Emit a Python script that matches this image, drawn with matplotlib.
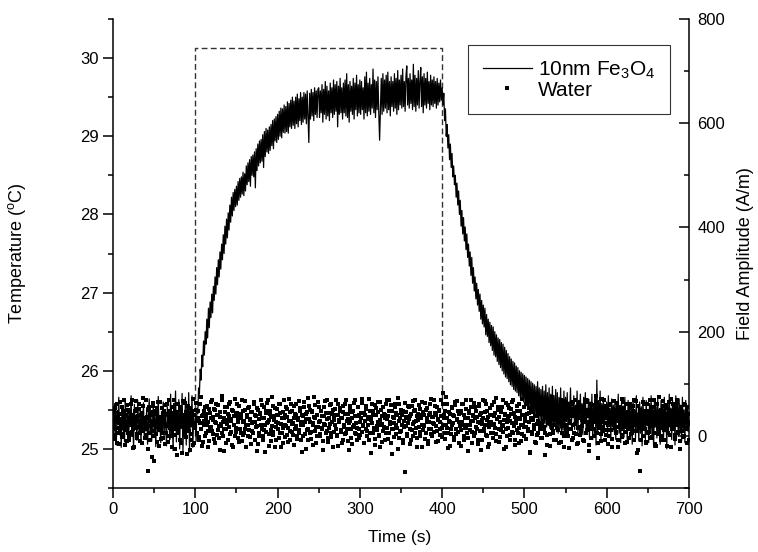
import matplotlib
matplotlib.use('Agg')
import matplotlib.pyplot as plt
from matplotlib.ticker import MultipleLocator
import numpy as np

plt.rcParams['font.family'] = ['Liberation Sans', 'DejaVu Sans']
plt.rcParams['mathtext.fontset'] = 'custom'
plt.rcParams['mathtext.rm'] = 'Liberation Sans'
plt.rcParams['mathtext.it'] = 'Liberation Sans:italic'
plt.rcParams['mathtext.bf'] = 'Liberation Sans:bold'

# sampling: one reading per second, 0..700 s (water also has half-second readings)
time_start = 0
time_step = 1
half_offset = 0.5

fe3o4_temp = [
    25.41, 25.12, 25.58, 25.27, 25.05, 25.49, 25.31, 25.66, 25.18, 25.38,
    25.02, 25.55, 25.24, 25.44, 25.09, 25.61, 25.35, 25.21, 25.52, 25.13,
    25.47, 25.29, 25.68, 25.16, 25.39, 25.01, 25.57, 25.26, 25.43, 25.11,
    25.62, 25.34, 25.19, 25.50, 25.07, 25.45, 25.28, 25.59, 25.14, 25.40,
    25.23, 25.53, 25.06, 25.36, 25.64, 25.20, 25.46, 25.10, 25.32, 25.56,
    25.17, 25.42, 25.03, 25.51, 25.30, 25.67, 25.22, 25.37, 25.08, 25.48,
    25.25, 25.60, 25.15, 25.44, 25.33, 25.04, 25.54, 25.27, 25.41, 25.12,
    25.70, 25.19, 25.47, 24.98, 25.58, 25.31, 25.74, 25.09, 25.43, 25.22,
    25.63, 25.00, 25.52, 25.26, 25.71, 24.97, 25.45, 25.16, 25.66, 25.05,
    25.55, 25.21, 25.72, 24.96, 25.49, 25.28, 25.68, 25.02, 25.40, 25.30,
    25.35, 25.10, 25.52, 25.45, 25.78, 25.70, 26.02, 25.88, 26.20, 26.05,
    26.38, 26.20, 26.50, 26.34, 26.66, 26.42, 26.80, 26.55, 26.88, 26.68,
    26.98, 26.74, 27.08, 26.90, 27.20, 26.98, 27.32, 27.10, 27.42, 27.20,
    27.52, 27.30, 27.62, 27.42, 27.74, 27.50, 27.85, 27.62, 27.94, 27.70,
    28.02, 27.80, 28.12, 27.90, 28.22, 27.98, 28.28, 28.05, 28.32, 28.10,
    28.36, 28.12, 28.42, 28.18, 28.46, 28.22, 28.48, 28.26, 28.54, 28.24,
    28.52, 28.30, 28.62, 28.38, 28.66, 28.42, 28.70, 28.36, 28.74, 28.50,
    28.76, 28.48, 28.80, 28.34, 28.84, 28.56, 28.90, 28.62, 28.94, 28.66,
    28.96, 28.68, 29.02, 28.60, 29.06, 28.74, 29.10, 28.80, 29.08, 28.78,
    29.12, 28.82, 29.15, 28.88, 29.20, 28.84, 29.22, 28.94, 29.25, 28.92,
    29.28, 28.96, 29.32, 29.00, 29.36, 28.98, 29.35, 29.05, 29.40, 29.04,
    29.38, 29.06, 29.44, 29.04, 29.42, 29.12, 29.46, 29.10, 29.50, 29.14,
    29.45, 29.10, 29.50, 29.16, 29.54, 29.12, 29.48, 29.20, 29.56, 29.15,
    29.50, 29.18, 29.56, 29.22, 29.54, 29.16, 29.58, 29.24, 28.92, 29.55,
    29.22, 29.60, 29.26, 29.56, 29.20, 29.62, 29.28, 29.58, 29.24, 29.60,
    29.62, 29.24, 29.58, 29.30, 29.66, 29.18, 29.60, 29.28, 29.70, 29.22,
    29.64, 29.26, 29.58, 29.20, 29.68, 29.30, 29.62, 29.24, 29.72, 29.28,
    29.66, 29.32, 29.70, 29.12, 29.64, 29.28, 29.74, 29.30, 29.62, 29.22,
    29.68, 29.30, 29.72, 29.26, 29.80, 29.24, 29.66, 29.18, 29.70, 29.32,
    29.64, 29.28, 29.74, 29.22, 29.68, 29.34, 29.78, 29.26, 29.66, 29.30,
    29.72, 29.28, 29.70, 29.34, 29.62, 29.22, 29.76, 29.30, 29.82, 29.26,
    29.68, 29.32, 29.74, 29.28, 29.66, 29.36, 29.86, 29.30, 29.72, 29.24,
    29.70, 29.34, 29.76, 29.30, 28.95, 29.36, 29.74, 29.28, 29.80, 29.32,
    29.72, 29.36, 29.78, 29.30, 29.82, 29.34, 29.70, 29.26, 29.76, 29.38,
    29.70, 29.32, 29.80, 29.36, 29.74, 29.28, 29.84, 29.34, 29.72, 29.40,
    29.78, 29.36, 29.86, 29.38, 29.70, 29.32, 29.76, 29.90, 29.40, 29.74,
    29.36, 29.80, 29.42, 29.72, 29.34, 29.92, 29.38, 29.78, 29.32, 29.74,
    29.40, 29.84, 29.36, 29.70, 29.88, 29.38, 29.76, 29.30, 29.80, 29.40,
    29.74, 29.36, 29.82, 29.42, 29.70, 29.34, 29.78, 29.40, 29.72, 29.38,
    29.76, 29.42, 29.70, 29.36, 29.74, 29.40, 29.68, 29.44, 29.72, 29.46,
    29.62, 29.40, 29.55, 29.20, 29.35, 29.00, 29.15, 28.85, 29.02, 28.70,
    28.90, 28.60, 28.78, 28.48, 28.62, 28.38, 28.50, 28.22, 28.40, 28.12,
    28.30, 28.00, 28.18, 27.85, 28.05, 27.75, 27.96, 27.66, 27.84, 27.55,
    27.75, 27.45, 27.62, 27.34, 27.52, 27.22, 27.45, 27.12, 27.32, 27.02,
    27.20, 26.92, 27.12, 26.84, 27.04, 26.76, 26.98, 26.66, 26.90, 26.60,
    26.84, 26.56, 26.80, 26.46, 26.72, 26.44, 26.66, 26.36, 26.62, 26.32,
    26.58, 26.26, 26.56, 26.20, 26.50, 26.18, 26.46, 26.12, 26.42, 26.08,
    26.40, 26.04, 26.36, 26.00, 26.34, 25.96, 26.30, 25.92, 26.26, 25.90,
    26.22, 25.86, 26.18, 25.82, 26.15, 25.80, 26.12, 25.76, 26.10, 25.74,
    26.06, 25.72, 26.04, 25.68, 26.00, 25.66, 25.98, 25.62, 25.96, 25.60,
    25.94, 25.58, 25.92, 25.55, 25.90, 25.52, 25.88, 25.50, 25.86, 25.46,
    25.84, 25.44, 25.82, 25.42, 25.80, 25.40, 25.86, 25.38, 25.78, 25.36,
    25.76, 25.34, 25.80, 25.30, 25.74, 25.32, 25.82, 25.28, 25.72, 25.30,
    25.78, 25.26, 25.70, 25.28, 25.80, 25.24, 25.68, 25.30, 25.76, 25.22,
    25.72, 25.20, 25.66, 25.26, 25.78, 25.18, 25.64, 25.24, 25.74, 25.16,
    25.66, 25.35, 25.72, 25.22, 25.60, 25.44, 25.78, 25.30, 25.54, 25.40,
    25.68, 25.25, 25.56, 25.38, 25.74, 25.20, 25.62, 25.42, 25.70, 25.28,
    25.58, 25.18, 25.66, 25.35, 25.72, 25.24, 25.52, 25.40, 25.64, 25.15,
    25.60, 25.30, 25.70, 25.12, 25.55, 25.36, 25.68, 25.05, 25.88, 25.22,
    25.62, 25.26, 25.74, 25.10, 25.58, 25.32, 25.66, 25.20, 25.54, 25.38,
    25.60, 25.18, 25.68, 25.30, 25.52, 25.14, 25.64, 25.28, 25.56, 25.22,
    25.62, 25.12, 25.58, 25.34, 25.70, 25.20, 25.50, 25.08, 25.60, 25.26,
    25.55, 25.15, 25.66, 25.30, 25.48, 25.10, 25.62, 25.24, 25.52, 25.18,
    25.58, 25.06, 25.64, 25.28, 25.50, 25.14, 25.68, 25.22, 25.46, 25.10,
    25.60, 25.20, 25.54, 25.04, 25.66, 25.26, 25.50, 25.12, 25.62, 25.30,
    25.48, 25.08, 25.58, 25.24, 25.68, 25.16, 25.52, 25.02, 25.60, 25.28,
    25.54, 25.14, 25.64, 25.20, 25.48, 25.06, 25.62, 25.26, 25.56, 25.10,
    25.66, 25.22, 25.50, 25.00, 25.58, 25.18, 25.70, 25.28, 25.52, 25.12,
    25.62, 25.24, 25.55, 25.05, 25.68, 25.30, 25.58, 25.16, 25.64, 25.20,
    25.56, 25.10, 25.66, 25.26, 25.50, 25.08, 25.62, 25.30, 25.54, 25.22,
    25.40,
]

water_temp = [
    25.30, 25.45, 25.18, 25.52, 25.36, 25.08, 25.41, 25.27, 25.60, 25.22,
    25.38, 25.15, 25.48, 25.33, 25.05, 25.44, 25.29, 25.56, 25.20, 25.35,
    25.12, 25.47, 25.31, 25.62, 25.25, 25.40, 25.03, 25.37, 25.51, 25.19,
    25.42, 25.28, 25.58, 25.10, 25.34, 25.46, 25.23, 25.65, 25.32, 25.14,
    25.39, 25.26, 25.00, 24.72, 25.50, 25.21, 25.43, 24.90, 25.30, 25.55,
    25.17, 25.36, 25.48, 25.09, 25.32, 25.60, 25.24, 25.41, 25.13, 25.35,
    25.52, 25.20, 25.38, 25.06, 25.45, 25.29, 25.57, 25.16, 25.34, 25.49,
    25.25, 25.42, 25.02, 25.37, 25.63, 25.18, 25.31, 25.47, 24.92, 25.28,
    25.40, 25.11, 25.54, 25.33, 24.95, 25.44, 25.22, 25.59, 25.30, 25.15,
    25.46, 25.27, 25.38, 24.98, 25.52, 25.19, 25.35, 25.64, 25.08, 25.43,
    25.32, 25.50, 25.21, 25.40, 25.12, 25.36, 25.58, 25.25, 25.04, 25.44,
    25.30, 25.48, 25.16, 25.39, 25.55, 25.23, 25.34, 25.10, 25.46, 25.28,
    25.62, 25.19, 25.37, 25.51, 25.07, 25.33, 25.43, 25.24, 25.56, 25.14,
    25.41, 25.29, 25.68, 25.20, 25.35, 24.97, 25.47, 25.26, 25.53, 25.32,
    25.11, 25.42, 25.60, 25.22, 25.38, 25.05, 25.49, 25.30, 25.16, 25.44,
    25.27, 25.57, 25.34, 25.09, 25.45, 25.21, 25.39, 25.63, 25.18, 25.36,
    25.50, 25.25, 25.02, 25.41, 25.31, 25.54, 25.15, 25.37, 25.47, 25.23,
    25.34, 25.60, 25.12, 25.43, 25.28, 25.52, 25.06, 25.38, 25.20, 25.46,
    25.31, 25.56, 25.17, 25.40, 25.24, 24.96, 25.48, 25.33, 25.62, 25.19,
    25.37, 25.45, 25.10, 25.29, 25.55, 25.22, 25.42, 25.03, 25.35, 25.51,
    25.26, 25.44, 25.14, 25.58, 25.32, 25.20, 25.47, 25.08, 25.39, 25.30,
    25.53, 25.18, 25.41, 25.27, 25.64, 25.12, 25.36, 25.49, 25.22, 25.33,
    25.05, 25.45, 25.29, 25.57, 25.16, 25.40, 25.24, 25.52, 25.35, 25.11,
    25.43, 25.31, 25.60, 25.19, 25.38, 25.00, 25.47, 25.26, 25.55, 25.21,
    25.34, 25.13, 25.49, 25.30, 25.66, 25.23, 25.39, 25.07, 25.44, 25.28,
    25.54, 25.17, 25.36, 25.48, 25.25, 24.98, 25.42, 25.32, 25.61, 25.20,
    25.38, 25.09, 25.46, 25.27, 25.56, 25.15, 25.35, 25.50, 25.22, 25.41,
    25.30, 25.63, 25.18, 25.44, 25.04, 25.37, 25.52, 25.24, 25.40, 25.12,
    25.47, 25.28, 25.58, 25.21, 25.36, 25.45, 25.10, 25.33, 25.55, 25.26,
    25.39, 25.06, 25.49, 25.31, 25.62, 25.19, 25.42, 25.27, 25.53, 25.14,
    25.35, 25.46, 25.22, 25.59, 25.30, 25.08, 25.43, 25.25, 25.51, 25.17,
    25.38, 25.64, 25.20, 25.41, 24.95, 25.33, 25.48, 25.26, 25.56, 25.13,
    25.44, 25.29, 25.60, 25.18, 25.37, 25.02, 25.50, 25.32, 25.23, 25.45,
    25.11, 25.39, 25.57, 25.27, 25.42, 25.20, 25.63, 25.34, 25.07, 25.48,
    25.25, 25.40, 25.15, 25.53, 25.31, 25.44, 25.00, 25.36, 25.58, 25.22,
    25.46, 25.30, 25.12, 25.49, 25.28, 24.70, 25.41, 25.19, 25.55, 25.33,
    25.38, 25.06, 25.45, 25.24, 25.61, 25.17, 25.35, 25.50, 25.27, 25.42,
    25.14, 25.37, 25.56, 25.22, 25.43, 25.31, 25.03, 25.47, 25.29, 25.59,
    25.20, 25.39, 25.52, 25.10, 25.34, 25.46, 25.26, 25.64, 25.16, 25.41,
    25.32, 25.55, 25.09, 25.44, 25.23, 25.38, 25.50, 25.18, 25.35, 25.62,
    25.27, 25.72, 25.40, 25.13, 25.48, 25.30, 25.57, 25.21, 25.36, 25.04,
    25.45, 25.25, 25.53, 25.33, 25.15, 25.42, 25.60, 25.19, 25.37, 25.49,
    25.08, 25.34, 25.46, 25.24, 25.58, 25.31, 25.12, 25.43, 25.27, 25.51,
    25.20, 25.39, 24.97, 25.48, 25.30, 25.63, 25.22, 25.36, 25.44, 25.16,
    25.53, 25.28, 25.41, 25.06, 25.35, 25.57, 25.23, 25.46, 25.32, 25.11,
    25.40, 25.26, 25.61, 25.18, 25.37, 25.49, 25.02, 25.33, 25.44, 25.21,
    25.56, 25.30, 25.14, 25.42, 25.27, 25.65, 25.19, 25.38, 25.50, 25.09,
    25.35, 25.47, 25.24, 25.54, 25.31, 25.00, 25.43, 25.26, 25.59, 25.17,
    25.39, 25.52, 25.12, 25.36, 25.45, 25.22, 25.62, 25.29, 25.05, 25.41,
    25.33, 25.48, 25.20, 25.57, 25.27, 25.38, 25.10, 25.44, 25.31, 25.53,
    25.16, 25.40, 25.28, 25.63, 25.23, 25.46, 25.34, 24.96, 25.50, 25.19,
    25.37, 25.55, 25.25, 25.42, 25.08, 25.32, 25.58, 25.21, 25.45, 25.30,
    25.14, 25.49, 25.36, 25.60, 25.26, 24.92, 25.41, 25.18, 25.53, 25.33,
    25.44, 25.04, 25.38, 25.27, 25.66, 25.20, 25.47, 25.31, 25.12, 25.40,
    25.56, 25.24, 25.35, 25.48, 25.09, 25.43, 25.29, 25.61, 25.17, 25.38,
    25.30, 25.52, 25.22, 25.45, 25.01, 25.36, 25.58, 25.26, 25.42, 25.14,
    25.49, 25.32, 25.63, 25.19, 25.40, 25.07, 25.46, 25.28, 25.55, 25.23,
    25.37, 25.12, 25.50, 25.34, 25.43, 25.20, 25.60, 25.29, 25.05, 25.44,
    25.25, 25.57, 25.31, 25.39, 25.16, 25.48, 25.35, 25.68, 25.21, 24.88,
    25.42, 25.27, 25.54, 25.10, 25.36, 25.46, 25.23, 25.62, 25.33, 25.18,
    25.47, 25.30, 25.06, 25.41, 25.56, 25.24, 25.38, 25.13, 25.51, 25.32,
    25.44, 25.20, 25.59, 25.28, 25.03, 25.39, 25.48, 25.26, 25.64, 25.15,
    25.36, 25.52, 25.22, 25.43, 25.31, 25.09, 25.47, 25.34, 25.58, 25.19,
    25.40, 25.27, 25.55, 25.12, 25.45, 25.33, 25.61, 25.23, 24.99, 25.38,
    25.50, 24.72, 25.30, 25.44, 25.17, 25.57, 25.26, 25.41, 25.08, 25.35,
    25.48, 25.22, 25.62, 25.31, 25.14, 25.46, 25.29, 25.53, 25.20, 25.39,
    25.04, 25.43, 25.35, 25.66, 25.24, 25.49, 25.16, 25.37, 25.55, 25.28,
    25.41, 25.11, 25.52, 25.32, 25.45, 25.21, 25.60, 25.30, 25.02, 25.44,
    25.26, 25.58, 25.36, 25.18, 25.47, 25.33, 25.63, 25.22, 25.40, 25.10,
    25.53, 25.29, 25.46, 25.15, 25.38, 25.56, 25.25, 25.42, 25.07, 25.34,
    25.45,
]

water_temp_half = [
    25.26, 25.49, 25.13, 25.40, 25.57, 25.21, 25.34, 25.06, 25.45, 25.31,
    25.53, 25.19, 25.37, 25.62, 25.24, 25.42, 25.10, 25.33, 25.50, 25.16,
    25.39, 25.58, 25.22, 25.44, 25.01, 25.35, 25.48, 25.27, 25.61, 25.14,
    25.36, 25.51, 25.20, 25.43, 25.30, 25.07, 25.55, 25.25, 25.38, 25.63,
    25.18, 25.41, 25.29, 25.54, 25.11, 25.36, 25.47, 25.23, 25.59, 24.85,
    25.33, 25.45, 25.19, 25.52, 25.28, 25.04, 25.40, 25.60, 25.24, 25.37,
    25.14, 25.48, 25.32, 25.56, 25.21, 25.43, 25.09, 25.36, 25.62, 25.27,
    25.46, 25.16, 25.39, 25.53, 25.26, 25.00, 25.44, 25.32, 25.58, 25.20,
    25.35, 25.50, 25.07, 25.42, 25.29, 25.61, 25.18, 25.37, 25.47, 24.94,
    25.31, 25.55, 25.23, 25.40, 25.12, 25.48, 25.34, 25.05, 25.44, 25.27,
    25.59, 25.21, 25.38, 25.49, 25.15, 25.33, 25.66, 25.25, 25.42, 25.09,
    25.36, 25.54, 25.20, 25.45, 25.30, 25.02, 25.51, 25.27, 25.39, 25.60,
    25.23, 25.41, 25.13, 25.50, 25.34, 25.57, 25.18, 25.44, 25.29, 24.99,
    25.47, 25.32, 25.62, 25.16, 25.40, 25.25, 25.53, 25.08, 25.37, 25.45,
    25.28, 25.58, 25.19, 25.36, 25.50, 25.03, 25.42, 25.31, 25.64, 25.22,
    25.46, 25.14, 25.39, 25.55, 25.26, 25.43, 25.10, 25.35, 25.49, 25.20,
    25.61, 25.30, 25.44, 25.17, 25.52, 25.24, 25.38, 25.06, 25.47, 25.33,
    25.21, 25.57, 25.35, 25.42, 24.97, 25.29, 25.50, 25.16, 25.45, 25.63,
    25.26, 25.39, 25.12, 25.53, 25.31, 25.46, 25.22, 25.59, 25.35, 25.04,
    25.48, 25.24, 25.41, 25.66, 25.18, 25.37, 25.52, 25.28, 25.11, 25.44,
    25.33, 25.57, 25.20, 25.46, 25.02, 25.39, 25.27, 25.62, 25.15, 25.43,
    25.29, 25.51, 25.09, 25.36, 25.47, 25.23, 25.58, 25.32, 25.18, 25.40,
    25.55, 25.26, 25.44, 25.13, 25.37, 25.61, 25.21, 25.48, 25.30, 24.96,
    25.42, 25.17, 25.53, 25.34, 25.45, 25.24, 25.65, 25.11, 25.38, 25.50,
    25.22, 25.47, 25.33, 25.05, 25.41, 25.56, 25.28, 25.44, 25.16, 25.60,
    25.35, 25.19, 25.49, 25.27, 25.42, 25.10, 25.54, 25.31, 25.46, 25.23,
    25.63, 25.14, 25.40, 25.32, 25.57, 25.20, 25.45, 25.02, 25.37, 25.51,
    25.26, 25.43, 25.17, 25.58, 25.34, 25.48, 25.22, 25.40, 25.08, 25.55,
    25.30, 25.45, 25.19, 25.62, 25.25, 25.38, 24.98, 25.50, 25.36, 25.14,
    25.47, 25.28, 25.59, 25.21, 25.42, 25.33, 25.12, 25.53, 25.26, 25.44,
    25.18, 25.40, 25.64, 25.29, 25.46, 25.07, 25.36, 25.55, 25.23, 25.41,
    25.31, 25.12, 25.49, 25.37, 25.58, 25.20, 25.43, 25.27, 25.05, 25.52,
    25.24, 25.47, 25.35, 25.16, 25.60, 25.30, 25.42, 25.09, 25.54, 25.28,
    25.44, 25.21, 25.38, 25.62, 25.13, 25.48, 25.32, 25.56, 25.25, 24.94,
    25.41, 25.33, 25.57, 25.19, 25.46, 25.27, 25.65, 25.14, 25.39, 25.50,
    25.23, 25.44, 25.08, 25.36, 25.59, 25.29, 25.47, 25.17, 25.40, 25.53,
    25.26, 25.42, 25.11, 25.55, 25.32, 25.48, 25.20, 25.63, 25.36, 25.03,
    25.45, 25.28, 25.51, 25.16, 25.39, 25.60, 25.24, 25.43, 25.30, 25.13,
    25.50, 25.35, 25.06, 25.44, 25.26, 25.57, 25.19, 25.41, 25.33, 25.62,
    25.22, 25.46, 25.29, 25.54, 25.10, 25.37, 25.48, 25.25, 25.42, 25.15,
    25.58, 25.31, 25.44, 25.20, 25.66, 25.27, 25.39, 25.01, 25.47, 25.34,
    25.19, 25.52, 25.30, 25.43, 25.11, 25.56, 25.25, 25.38, 25.61, 25.22,
    25.45, 25.29, 25.04, 25.49, 25.35, 25.57, 25.16, 25.40, 25.27, 25.63,
    25.31, 25.14, 25.46, 25.24, 25.53, 25.36, 25.08, 25.42, 25.59, 25.20,
    25.39, 25.48, 25.26, 25.12, 25.55, 25.33, 25.44, 24.98, 25.37, 25.62,
    25.23, 25.47, 25.30, 25.58, 25.17, 25.41, 25.28, 25.06, 25.52, 25.35,
    25.43, 25.20, 25.60, 25.32, 25.46, 25.10, 25.38, 25.54, 25.25, 25.41,
    25.15, 25.49, 25.29, 25.63, 25.22, 25.37, 25.45, 25.03, 25.34, 25.56,
    25.27, 25.42, 25.18, 25.51, 25.33, 25.60, 25.21, 25.46, 25.12, 25.38,
    25.55, 25.24, 25.40, 25.07, 25.48, 25.31, 25.64, 25.19, 25.43, 25.28,
    25.36, 25.57, 25.13, 25.45, 25.26, 25.52, 24.95, 25.39, 25.61, 25.22,
    25.47, 25.30, 25.09, 25.42, 25.55, 25.18, 25.36, 25.49, 25.25, 25.62,
    25.33, 25.14, 25.46, 25.28, 25.58, 25.21, 25.40, 25.05, 25.51, 25.36,
    25.19, 25.44, 25.31, 25.60, 25.23, 25.48, 25.11, 25.37, 25.54, 25.27,
    25.42, 25.08, 25.50, 25.34, 25.63, 25.20, 25.45, 25.29, 25.02, 25.39,
    25.57, 25.25, 25.41, 25.16, 25.52, 25.33, 25.46, 25.12, 25.60, 25.30,
    25.21, 25.44, 25.36, 25.06, 25.49, 25.27, 25.58, 25.18, 25.40, 25.53,
    25.29, 25.47, 25.10, 25.38, 25.62, 25.24, 25.43, 25.34, 24.97, 25.50,
    25.32, 25.14, 25.45, 25.56, 25.26, 25.41, 25.20, 25.59, 25.35, 25.07,
    25.48, 25.30, 25.64, 25.19, 25.43, 25.28, 25.52, 25.12, 25.39, 25.55,
    25.24, 25.40, 25.16, 25.58, 25.33, 25.47, 25.03, 25.37, 25.61, 25.27,
    25.50, 25.22, 25.43, 25.11, 25.36, 25.54, 25.30, 25.46, 25.18, 25.60,
    25.28, 25.45, 25.07, 25.40, 25.57, 25.25, 25.39, 25.14, 25.52, 25.34,
    25.20, 25.48, 25.31, 25.63, 25.23, 25.42, 24.95, 25.37, 25.55, 25.29,
    25.46, 25.12, 25.38, 25.60, 25.26, 25.49, 25.33, 25.09, 25.44, 25.58,
    25.21, 25.40, 25.30, 25.54, 25.15, 25.47, 25.35, 25.62, 25.06, 25.42,
    25.32, 25.57, 25.19, 25.45, 25.27, 25.50, 25.11, 25.38, 25.61, 25.24,
    25.43, 25.29, 25.56, 25.04, 25.40, 25.33, 25.48, 25.18, 25.64, 25.26,
    25.37, 25.52, 25.13, 25.44, 25.30, 25.59, 25.21, 25.46, 25.00, 25.35,
    25.49, 25.23, 25.41, 25.57, 25.16, 25.38, 25.27, 25.54, 25.32, 25.12,
]

# applied field: on from 100 s to 400 s (dashed rectangle)
field_time = [100, 100, 400, 400]
field_amp = [0, 745, 745, 0]

time_s = time_start + time_step * np.arange(len(fe3o4_temp))
time_w = np.concatenate([
    time_start + time_step * np.arange(len(water_temp)),
    time_start + half_offset + time_step * np.arange(len(water_temp_half)),
])
water_all = np.concatenate([water_temp, water_temp_half])

fig = plt.figure(figsize=(7.58, 5.52), dpi=100)
ax = fig.add_axes([113 / 758, 1 - 488 / 552, 576 / 758, 469 / 552])
ax2 = ax.twinx()
ax.set_zorder(ax2.get_zorder() + 1)
ax.patch.set_visible(False)

ax2.plot(field_time, field_amp, color='#333333', lw=1.0, dashes=(4.2, 2.4))

ax.plot(time_s, fe3o4_temp, color='black', lw=0.9, zorder=3,
        label='10nm Fe$_3$O$_4$')
ax.plot(time_w, water_all, ls='none', marker='s', ms=2.4, mfc='black',
        mec='black', mew=0, zorder=2, label='Water')

ax.set_xlim(0, 700)
ax.set_ylim(24.5, 30.5)
ax2.set_ylim(-100, 800)

ax.xaxis.set_major_locator(MultipleLocator(100))
ax.xaxis.set_minor_locator(MultipleLocator(50))
ax.yaxis.set_major_locator(MultipleLocator(1))
ax.yaxis.set_minor_locator(MultipleLocator(0.5))
ax2.yaxis.set_major_locator(MultipleLocator(200))
ax2.yaxis.set_minor_locator(MultipleLocator(100))

for a in (ax, ax2):
    a.spines['top'].set_visible(False)
    for s in a.spines.values():
        s.set_linewidth(1.1)
ax2.spines['left'].set_visible(False)
ax2.spines['bottom'].set_visible(False)
ax.spines['right'].set_visible(False)

ax.tick_params(axis='both', which='major', direction='out', length=7,
               width=1.1, labelsize=12, pad=3)
ax.tick_params(axis='both', which='minor', direction='out', length=3.5,
               width=1.1)
ax2.tick_params(axis='y', which='major', direction='in', length=7,
                width=1.1, labelsize=12, pad=6)
ax2.tick_params(axis='y', which='minor', direction='in', length=3.5,
                width=1.1)

ax.set_xlabel('Time (s)', fontsize=12.5)
ax.set_ylabel('Temperature ($^{\\rm o}$C)', fontsize=13)
ax2.set_ylabel('Field Amplitude (A/m)', fontsize=13)
ax.xaxis.set_label_coords(0.498, -0.09)
ax.yaxis.set_label_coords(-0.148, 0.5)
ax2.yaxis.set_label_coords(1.083, 0.5)

leg = ax.legend(loc='upper right', bbox_to_anchor=(0.967, 0.945),
                fontsize=15, frameon=True, fancybox=False,
                edgecolor='black', handlelength=2.35, handletextpad=0.3,
                borderpad=0.7, borderaxespad=0, markerscale=1.1,
                labelspacing=0.0)
leg.get_frame().set_linewidth(0.8)

fig.savefig('out.png', dpi=100)
